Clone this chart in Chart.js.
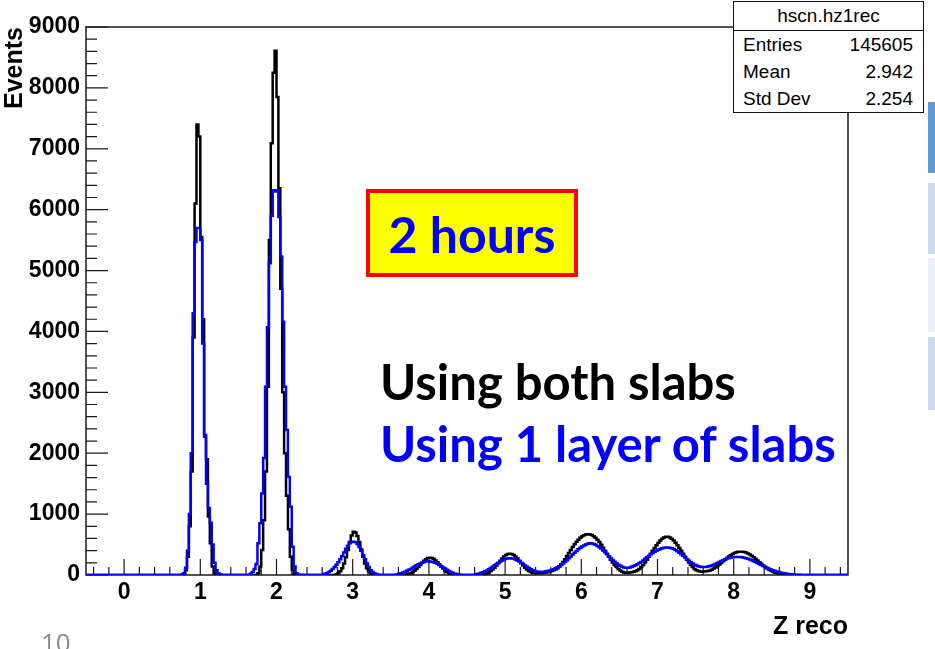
<!DOCTYPE html>
<html>
<head>
<meta charset="utf-8">
<script src="https://cdn.jsdelivr.net/npm/chart.js@4.4.0/dist/chart.umd.min.js"></script>
<style>
  html, body { margin: 0; padding: 0; background: #fff; }
  #wrap { position: relative; width: 935px; height: 649px; overflow: hidden; }
  #histo { position: absolute; left: 0; top: 0; }
  .abs { position: absolute; white-space: nowrap; }
  #stats { left: 733px; top: 1px; width: 191px; height: 112px; box-sizing: border-box;
    border: 1px solid #111; background: #fff; font-family: "Liberation Sans", Arial, sans-serif;
    font-size: 19px; color: #000; }
  #stats .ttl { height: 28px; line-height: 28px; text-align: center; border-bottom: 1px solid #111; }
  #stats .row { height: 27px; line-height: 27px; padding: 0 10px 0 9px; display: flex; justify-content: space-between; }
  #hours { left: 366px; top: 189px; width: 212px; height: 88px; box-sizing: border-box;
    background: #ffff00; border: 4px solid #ff0000; color: #0000ff;
    font-family: Lato, "Open Sans", sans-serif; font-weight: bold; font-size: 50px;
    text-align: center; line-height: 83px; }
  .note { font-family: Lato, "Open Sans", sans-serif; font-weight: bold; font-size: 49px; line-height: 1.2; }
  #page { left: 41px; top: 624px; font-family: "Open Sans", sans-serif; font-size: 26px; color: #8c8c8c; }
  .deco { position: absolute; left: 928px; width: 7px; }
</style>
</head>
<body>
<div id="wrap">
  <canvas id="histo" width="935" height="649"></canvas>

  <div class="deco" style="top:102px;height:71px;background:#5b9bd5;"></div>
  <div class="deco" style="top:183px;height:71px;background:#cfdaed;"></div>
  <div class="deco" style="top:258px;height:74px;background:#e9eef7;"></div>
  <div class="deco" style="top:337px;height:73px;background:#cfdaed;"></div>

  <div id="stats" class="abs">
    <div class="ttl">hscn.hz1rec</div>
    <div class="row"><span>Entries</span><span>145605</span></div>
    <div class="row"><span>Mean</span><span>2.942</span></div>
    <div class="row"><span>Std Dev</span><span>2.254</span></div>
  </div>

  <div id="hours" class="abs">2 hours</div>
  <div class="abs note" style="left:380px;top:352px;color:#000;">Using both slabs</div>
  <div class="abs note" style="left:380px;top:414px;color:#0000ff;">Using 1 layer of slabs</div>
  <div id="page" class="abs">10</div>
</div>

<script>
// histogram binning: 400 bins of 0.025 from -0.5 to 9.5
const xLo = -0.5;
const xHi = 9.5;
const binW = 0.025;

const xTicks = [0, 1, 2, 3, 4, 5, 6, 7, 8, 9];
const yTicks = [0, 1000, 2000, 3000, 4000, 5000, 6000, 7000, 8000, 9000];

// "Using both slabs" (black)
const bothSlabs = [
  0,0,0,0,0,0,0,0,0,0, 0,0,0,0,0,0,0,0,0,0,
  0,0,0,0,0,0,0,0,0,0, 0,0,0,0,0,0,0,0,0,0,
  0,0,0,0,0,0,0,0,0,0, 0,20,80,300,800,1700,3900,6100,7400,7200,
  5550,4200,2300,1900,960,520,140,30,5,0, 0,0,0,0,0,0,0,0,0,0,
  0,0,0,0,0,0,0,0,0,0, 30,140,410,900,1700,3090,5500,7090,8250,8610,
  7850,6350,4700,3000,2000,1300,750,300,90,20, 5,0,0,0,0,0,0,0,0,0,
  0,0,0,0,0,0,0,0,0,0, 0,10,30,60,110,190,290,410,540,650,
  710,700,640,540,420,300,190,110,60,30, 10,0,0,0,0,0,0,0,0,0,
  0,0,0,0,0,0,0,0,10,20, 30,50,70,100,130,165,200,235,260,280,
  285,280,265,240,210,175,140,105,75,50, 30,15,5,0,0,0,0,0,0,0,
  0,0,0,0,0,0,0,0,10,20, 30,45,65,90,120,155,195,235,270,305,
  330,345,350,345,330,305,270,235,195,155, 120,90,65,48,38,32,30,30,32,34,
  36,40,46,54,64,76,92,112,140,175, 215,260,310,360,410,460,505,545,580,610,
  635,652,664,668,665,655,635,610,578,540, 495,448,398,348,298,250,205,165,130,100,
  75,55,42,38,38,40,45,52,62,78, 100,130,165,205,250,300,350,400,445,490,
  530,565,595,615,630,628,615,595,565,530, 490,445,400,350,300,250,205,165,130,100,
  80,65,58,55,56,60,66,75,88,105, 125,148,172,198,225,252,278,302,325,345,
  360,372,380,383,383,378,368,354,336,315, 290,265,238,210,183,157,133,110,90,72,
  56,43,32,23,16,10,6,3,0,0, 0,0,0,0,0,0,0,0,0,0,
  0,0,0,0,0,0,0,0,0,0, 0,0,0,0,0,0,0,0,0,0
];

// "Using 1 layer of slabs" (blue)
const oneLayer = [
  0,0,0,0,0,0,0,0,0,0, 0,0,0,0,0,0,0,0,0,0,
  0,0,0,0,0,0,0,0,0,0, 0,0,0,0,0,0,0,0,0,0,
  0,0,0,0,0,0,0,0,0,0, 10,30,120,400,1000,2000,4300,5470,5700,5700,
  5500,3800,2270,1500,1100,860,500,200,80,30, 10,0,0,0,0,0,0,0,0,0,
  0,0,0,0,0,0,20,50,100,180, 520,850,1340,1920,3090,4070,5120,5900,6320,6300,
  6320,5880,5230,4160,3090,2380,1610,1120,465,140, 30,10,0,0,0,0,0,0,0,0,
  0,0,0,0,10,20,30,50,70,100, 130,170,210,260,310,370,430,480,520,540,
  545,540,510,460,400,330,260,190,130,80, 50,30,15,5,0,0,0,0,0,0,
  0,0,5,10,20,30,40,55,70,85, 100,120,140,160,175,190,205,215,220,225,
  222,218,210,200,185,165,145,125,105,85, 65,50,35,25,15,8,4,0,0,0,
  0,0,0,0,10,15,25,35,45,60, 75,95,115,135,160,180,200,220,240,255,
  265,272,275,272,265,255,240,222,200,180, 158,136,115,95,78,65,57,52,50,52,
  55,60,66,74,84,96,110,126,145,166, 190,216,244,274,305,336,366,395,422,447,
  468,486,500,512,520,518,510,496,478,456, 430,402,372,340,308,276,246,218,193,170,
  150,135,125,120,120,125,135,148,162,178, 196,215,240,265,290,315,340,362,382,400,
  415,428,438,446,450,450,446,438,426,410, 390,367,342,315,288,260,234,210,188,170,
  155,143,135,130,130,133,138,146,156,168, 182,197,212,228,243,257,269,279,287,292,
  295,296,296,294,290,284,276,266,254,241, 227,212,196,180,164,148,133,118,104,91,
  79,68,58,49,41,34,28,23,18,14, 11,8,6,4,3,2,1,0,0,0,
  0,0,0,0,0,0,0,0,0,0, 0,0,0,0,0,0,0,0,0,0
];

// bin contents -> left-edge points for a stepped line
function toSteps(vals) {
  const pts = vals.map((v, i) => ({ x: xLo + i * binW, y: v }));
  pts.push({ x: xHi, y: vals[vals.length - 1] });
  return pts;
}

const axisFont = { family: '"Liberation Sans", Arial, sans-serif', size: 23, weight: 'bold' };
const titleFont = { family: '"Liberation Sans", Arial, sans-serif', size: 25, weight: 'bold' };

// ROOT style frame with inward ticks
const rootFrame = {
  id: 'rootFrame',
  beforeDatasetsDraw(chart) {
    const { ctx, chartArea: a, scales: { x, y } } = chart;
    ctx.save();
    ctx.strokeStyle = '#1a1a1a';
    ctx.lineWidth = 1.5;
    ctx.strokeRect(a.left, a.top, a.right - a.left, a.bottom - a.top);
    ctx.lineWidth = 1.2;
    ctx.beginPath();
    for (let k = -2; k <= 47; k++) {
      const v = k * 0.2;
      if (v < xLo || v > xHi) continue;
      const px = x.getPixelForValue(v);
      const len = (k % 5 === 0) ? 16 : 8;
      ctx.moveTo(px, a.bottom);
      ctx.lineTo(px, a.bottom - len);
    }
    for (let k = 0; k <= 45; k++) {
      const py = y.getPixelForValue(k * 200);
      const len = (k % 5 === 0) ? 22 : 11;
      ctx.moveTo(a.left, py);
      ctx.lineTo(a.left + len, py);
    }
    ctx.stroke();
    ctx.restore();
  }
};

new Chart(document.getElementById('histo'), {
  type: 'line',
  data: {
    datasets: [
      {
        label: 'Using 1 layer of slabs',
        data: toSteps(oneLayer),
        borderColor: '#0000ff',
        borderWidth: 2.5,
        stepped: true,
        pointRadius: 0,
        fill: false,
        order: 0
      },
      {
        label: 'Using both slabs',
        data: toSteps(bothSlabs),
        borderColor: '#000000',
        borderWidth: 2.5,
        stepped: true,
        pointRadius: 0,
        fill: false,
        order: 1
      }
    ]
  },
  options: {
    responsive: false,
    animation: false,
    layout: { padding: { left: 0, top: 27, right: 87, bottom: 0 } },
    plugins: { legend: { display: false }, tooltip: { enabled: false } },
    scales: {
      x: {
        type: 'linear',
        min: xLo,
        max: xHi,
        grid: { display: false, drawTicks: false },
        border: { display: false },
        afterBuildTicks: s => { s.ticks = xTicks.map(v => ({ value: v })); },
        afterFit: s => { s.height = 74; },
        ticks: { color: '#000', font: axisFont, padding: 4, maxRotation: 0, autoSkip: false,
                 callback: v => String(v) },
        title: { display: true, text: 'Z reco', align: 'end', color: '#000', font: titleFont,
                 padding: { top: 0, bottom: 7 } }
      },
      y: {
        type: 'linear',
        min: 0,
        max: 9000,
        grid: { display: false, drawTicks: false },
        border: { display: false },
        afterBuildTicks: s => { s.ticks = yTicks.map(v => ({ value: v })); },
        afterFit: s => { s.width = 86; },
        ticks: { color: '#000', font: axisFont, padding: 6, autoSkip: false,
                 callback: v => String(v) },
        title: { display: true, text: 'Events', align: 'end', color: '#000', font: titleFont,
                 padding: 0 }
      }
    }
  },
  plugins: [rootFrame]
});
</script>
</body>
</html>
